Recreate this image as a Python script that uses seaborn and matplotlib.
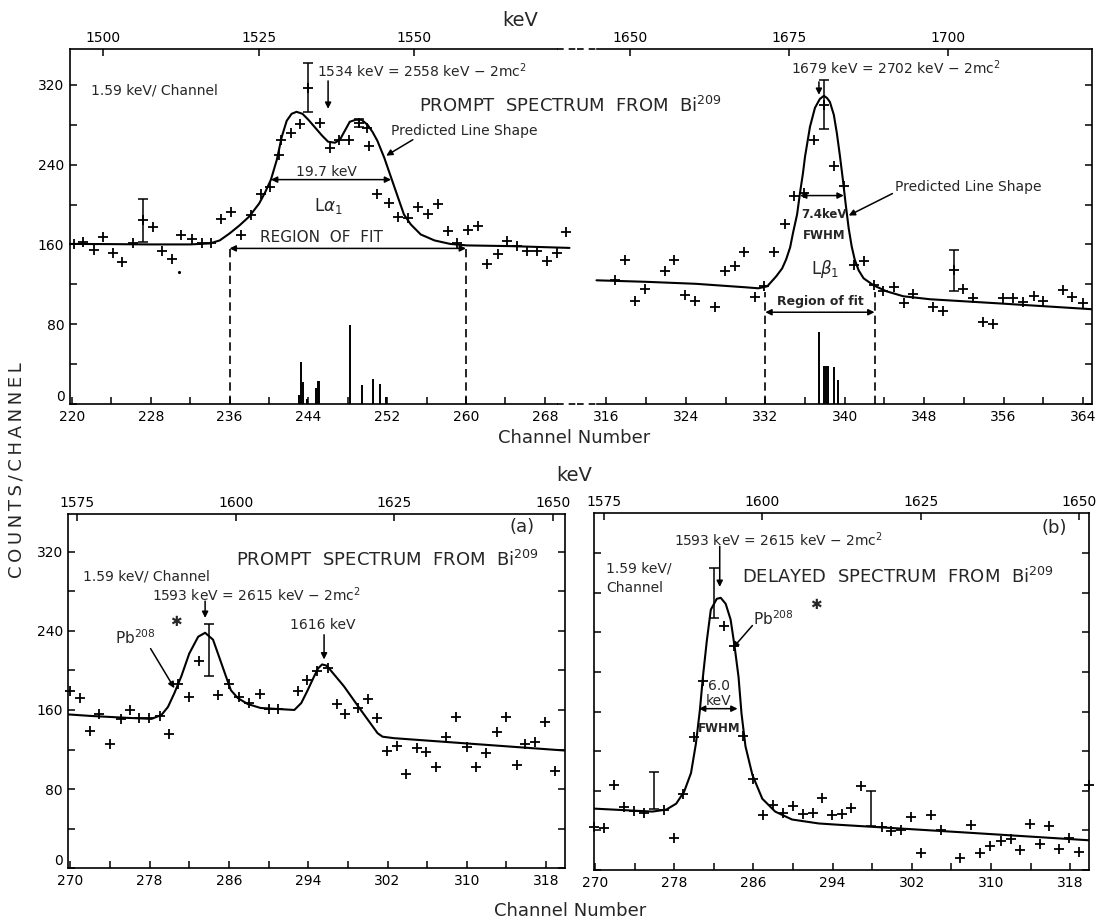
import matplotlib
matplotlib.use("Agg")
import matplotlib.pyplot as plt
import numpy as np
import pandas as pd
import seaborn as sns

sns.set_theme(style="ticks")
plt.rcParams['font.family'] = ['DejaVu Sans']
plt.rcParams['mathtext.fontset'] = 'dejavusans'
plt.rcParams['axes.linewidth'] = 1.2

# ======================= DATA =======================
# --- top panel, left part: L-alpha1 region (prompt spectrum from Bi209) ---
la_ch = [220.2, 221.1, 222.2, 223.2, 224.2, 225.1, 226.2, 227.2, 228.2, 229.1, 230.2,
         231.1, 232.2, 233.2, 234.1, 235.1, 236.1, 237.2, 238.2, 239.2, 240.1, 241.0,
         241.2, 242.2, 243.1, 244.0, 245.2, 246.2, 247.1, 248.1, 249.1, 250.0, 250.2,
         251.0, 252.2, 253.1, 254.1, 255.1, 256.1, 257.2, 258.2, 259.1, 260.2, 261.2,
         262.1, 263.2, 264.2, 265.2, 266.2, 267.2, 268.2, 269.2, 270.1]
la_cnt = [160, 162, 154, 167, 151, 142, 161, 184, 177, 153, 145,
          169, 165, 161, 161, 185, 193, 169, 190, 211, 218, 250,
          265, 272, 281, 317, 282, 257, 265, 265, 282, 277, 259,
          211, 202, 188, 186, 198, 191, 201, 173, 161, 174, 178,
          140, 150, 163, 158, 153, 153, 143, 151, 172]
la_err_ch = [227.2, 244.0, 249.1]
la_err_cnt = [184, 317, 282]
la_err = [22, 24.5, 4]
la_dot_ch = [230.9]
la_dot_cnt = [132]
la_fit_ch = [219.8, 224, 228, 232, 234, 235, 236, 237, 238, 239, 239.6, 240.2, 240.8,
             241.3, 241.8, 242.3, 242.8, 243.4, 244.0, 244.7, 245.4, 246.0, 246.7, 247.2,
             247.7, 248.2, 248.8, 249.4, 250.0, 250.5, 251.0, 251.7, 252.4, 253.1, 253.7,
             254.4, 255.4, 256.8, 258.4, 260.1, 264.5, 270.5]
la_fit_cnt = [160.5, 160.3, 160, 160, 161, 164, 171, 179, 188, 201, 212, 225, 245,
              268, 284, 291, 293, 291, 285, 277, 269, 263, 262, 265,
              274, 283, 285, 285, 280, 273, 264, 247, 227, 207, 190,
              180, 170, 164, 160.5, 159, 158.3, 156.5]
la_stick_ch = [243.0, 243.3, 243.5, 243.9, 244.75, 244.95, 245.1, 248.2, 249.4, 250.6, 251.3, 251.9]
la_stick_h = [9, 42, 22, 5, 16, 23, 23, 79, 19, 25, 20, 7]

# --- top panel, right part: L-beta1 region ---
lb_ch = [316.9, 317.9, 318.9, 319.9, 321.9, 322.8, 323.9, 324.9, 326.9, 327.9, 328.9,
         329.9, 331.0, 331.9, 332.9, 334.0, 334.9, 335.9, 336.9, 337.9, 338.9, 339.9,
         340.9, 341.9, 342.9, 343.9, 344.95, 345.95, 346.9, 348.9, 349.9, 351.0, 351.9,
         352.9, 353.9, 354.95, 355.96, 356.9, 358.0, 359.05, 360.0, 362.0, 362.9, 363.95]
lb_cnt = [124, 144, 103, 115, 133, 144, 109, 103, 97, 133, 138,
          152, 107, 118, 152, 180, 209, 212, 265, 300, 239, 219,
          139, 143, 119, 113, 117, 101, 110, 97, 93, 134, 115,
          106, 82, 80, 106, 106, 102, 108, 103, 114, 107, 101]
lb_err_ch = [337.9, 351.0]
lb_err_cnt = [300, 134]
lb_err = [24.5, 20.5]
lb_fit_ch = [315.0, 320, 325, 330, 331.3, 332.2, 333.1, 333.7, 334.1, 334.5, 334.8, 335.2,
             335.5, 335.8, 336.0, 336.5, 337.0, 337.5, 337.9, 338.2, 338.5, 338.9, 339.2,
             339.5, 339.8, 340.1, 340.4, 340.7, 341.0, 341.4, 341.9, 342.9, 344.2, 345.9,
             348.6, 355.3, 364.9]
lb_fit_cnt = [124, 122.5, 120.5, 117, 116, 118, 128, 136, 145, 157, 172, 190,
              212, 232, 248, 278, 297, 306, 309, 307, 303, 290, 272,
              250, 226, 200, 176, 158, 145, 134, 126, 119, 113, 108,
              105, 101, 95]
lb_stick_ch = [337.4, 337.95, 338.1, 338.3, 338.9, 339.3]
lb_stick_h = [72, 38, 38, 38, 37, 24]

# --- bottom left (a): prompt spectrum, 1593 keV region ---
a_ch = [270.0, 270.96, 272.0, 272.9, 274.0, 275.1, 276.0, 276.9, 277.9, 279.0, 280.0,
        280.9, 282.0, 283.0, 284.9, 286.0, 287.0, 288.0, 289.1, 290.0, 291.0, 293.0,
        293.9, 294.9, 295.95, 296.9, 297.7, 299.0, 300.0, 300.9, 301.9, 303.0, 303.9,
        305.0, 305.9, 306.9, 307.9, 308.9, 310.0, 310.9, 311.9, 313.0, 314.0, 315.1,
        315.9, 316.9, 317.9, 318.9]
a_cnt = [179, 172, 139, 156, 126, 151, 160, 152, 152, 154, 136,
         186, 173, 209, 175, 186, 173, 167, 176, 161, 161, 179,
         190, 199, 202, 166, 156, 162, 171, 152, 119, 124, 95,
         122, 118, 102, 133, 153, 123, 102, 117, 138, 153, 104,
         126, 128, 148, 98]
a_err_ch = [284.0]
a_err_cnt = [220.5]
a_err = [26.5]
a_fit_ch = [269.8, 272, 275.8, 278.2, 279.2, 279.85, 280.5, 281.2, 282.0, 282.9, 283.6,
            284.4, 285.0, 285.7, 286.2, 286.9, 287.9, 289.2, 290.9, 292.6, 293.3, 293.9,
            294.6, 295.0, 295.4, 295.8, 296.1, 297.6, 299.3, 301.0, 301.5, 302.65, 319.9]
a_fit_cnt = [155.5, 154, 152, 151, 155, 163, 177, 194, 217, 234, 238,
             231, 214, 194, 180, 172, 166, 162, 161, 160, 167, 179,
             194, 202, 206, 205, 202, 184, 160, 136.5, 133, 131.5, 119]

# --- bottom right (b): delayed spectrum ---
b_ch = [269.9, 270.95, 271.96, 272.96, 273.97, 275.0, 277.0, 278.0, 278.9, 280.0, 280.9,
        283.0, 284.0, 284.95, 285.95, 286.96, 287.97, 289.0, 290.0, 291.0, 292.0, 292.9,
        293.95, 294.96, 295.9, 296.9, 299.0, 299.9, 300.9, 301.9, 302.9, 303.95, 304.9,
        306.9, 307.95, 308.9, 309.9, 311.0, 312.0, 312.9, 313.9, 314.9, 315.9, 316.9,
        317.9, 318.9, 319.9]
b_cnt = [43, 42, 86, 64, 60, 58, 61, 32, 77, 134, 191,
         247, 226, 135, 92, 56, 66, 58, 65, 57, 58, 73,
         56, 57, 63, 85, 43, 39, 40, 54, 17, 56, 40,
         12, 45, 17, 24, 29, 31, 20, 46, 26, 44, 21,
         32, 18, 86]
b_err_ch = [276.0, 282.0, 297.9]
b_err_cnt = [80.5, 280, 62]
b_err = [18.5, 25, 18]
b_fit_ch = [269.9, 275.8, 277.2, 278.2, 279.0, 279.7, 280.2, 280.6, 280.9, 281.3, 281.7,
            282.3, 282.7, 283.2, 283.7, 284.1, 284.5, 284.8, 285.2, 285.9, 286.9, 288.2,
            289.9, 292.6, 294.1, 307.2, 319.9]
b_fit_cnt = [62, 59, 61, 67, 79, 98, 128, 162, 195, 232, 263,
             274, 275, 269, 253, 226, 195, 158, 125, 96, 72, 59,
             51, 47, 46, 38, 30]

y_major = [0, 80, 160, 240, 320]
y_minor = [40, 120, 200, 280]

# ======================= FIGURE =======================
fig = plt.figure(figsize=(11, 9.21), dpi=100)
axL = fig.add_axes([0.0636, 0.5614, 0.5245 - 0.0636, 0.9468 - 0.5614])
axR = fig.add_axes([0.5245, 0.5614, 0.9927 - 0.5245, 0.9468 - 0.5614])
axA = fig.add_axes([0.0621, 0.0572, 0.5136 - 0.0621, 0.4419 - 0.0572])
axB = fig.add_axes([0.5400, 0.0554, 0.9900 - 0.5400, 0.4433 - 0.0554])

for ax in (axL, axR, axA, axB):
    ax.patch.set_alpha(0)


def draw_points(ax, ch, cnt):
    df = pd.DataFrame({"ch": ch, "cnt": cnt})
    sns.scatterplot(data=df, x="ch", y="cnt", marker="+", s=48, color="black",
                    linewidth=1.3, ax=ax, clip_on=False, zorder=4, legend=False)


def draw_fit(ax, ch, cnt):
    df = pd.DataFrame({"ch": ch, "cnt": cnt})
    sns.lineplot(data=df, x="ch", y="cnt", sort=False, estimator=None, color="black",
                 linewidth=1.5, ax=ax, legend=False, zorder=3)


def draw_err(ax, ch, cnt, err):
    ax.errorbar(ch, cnt, yerr=err, fmt="none", ecolor="black", elinewidth=1.1,
                capsize=3.5, capthick=1.1, zorder=4)


def arrow(ax, x0, y0, x1, y1, style="-|>"):
    ax.annotate("", xy=(x1, y1), xytext=(x0, y0),
                arrowprops=dict(arrowstyle=style, color="black", lw=1.1,
                                mutation_scale=9, shrinkA=0, shrinkB=0),
                annotation_clip=False)


def style_axis(ax, left_on, right_on, labelleft):
    ax.set_yticks(y_major)
    ax.set_yticks(y_minor, minor=True)
    ax.tick_params(axis="both", which="both", direction="in", length=5, width=1.1,
                   labelsize=10, colors="black", top=False, bottom=True,
                   left=left_on, right=right_on, labelleft=labelleft, pad=4)
    ax.set_xlabel("")
    ax.set_ylabel("")
    for s in ax.spines.values():
        s.set_color("black")
        s.set_linewidth(1.2)
    if labelleft:
        # lift the "0" label so that it does not run into the first channel label
        ax.yaxis.get_major_ticks()[0].label1.set_verticalalignment("bottom")


def sec_axis(ax, k0, c0, slope, ticks):
    sec = ax.secondary_xaxis("top", functions=(lambda c: k0 + slope * (np.asarray(c) - c0),
                                               lambda k: c0 + (np.asarray(k) - k0) / slope))
    sec.set_xticks(ticks)
    sec.tick_params(direction="in", length=5, width=1.1, labelsize=10, pad=3, colors="black")
    for s in sec.spines.values():
        s.set_visible(False)
    return sec


# ---------- top left ----------
axL.vlines(la_stick_ch, 0, la_stick_h, color="black", lw=1.4)
draw_fit(axL, la_fit_ch, la_fit_cnt)
draw_points(axL, la_ch, la_cnt)
axL.plot(la_dot_ch, la_dot_cnt, ".", color="black", ms=2.5)
draw_err(axL, la_err_ch, la_err_cnt, la_err)
axL.set_xlim(219.8, 271.26)
axL.set_ylim(0, 356)
axL.set_xticks(range(220, 272, 8))
axL.set_xticks(range(224, 272, 8), minor=True)
style_axis(axL, True, False, True)
axL.spines["right"].set_visible(False)
axL.spines["top"].set_bounds(219.8, 269.2)
axL.spines["bottom"].set_bounds(219.8, 269.2)
sec_axis(axL, 1500, 223.2, 1.587, [1500, 1525, 1550])
tL = axL.get_xaxis_transform()
for yy in (0, 1):
    axL.plot([269.2, 271.26], [yy, yy], transform=tL, color="black", lw=1.2,
             ls=(0, (4, 3)), clip_on=False)

axL.text(221.9, 314, "1.59 keV/ Channel", fontsize=10, ha="left", va="center")
axL.text(244.9, 334, "1534 keV = 2558 keV $-$ 2mc$^2$", fontsize=10, ha="left", va="center")
arrow(axL, 246.0, 324, 246.0, 296)
axL.text(255.2, 299, "PROMPT  SPECTRUM  FROM  Bi$^{209}$", fontsize=13, ha="left",
         va="center", zorder=6)
axL.text(252.4, 274, "Predicted Line Shape", fontsize=10, ha="left", va="center")
arrow(axL, 254.6, 265, 251.9, 249)
axL.text(245.8, 233, "19.7 keV", fontsize=10, ha="center", va="center")
arrow(axL, 240.2, 225, 252.4, 225, "<|-|>")
axL.text(246.0, 199, r"L$\alpha_1$", fontsize=12, ha="center", va="center")
axL.text(245.3, 167, "REGION  OF  FIT", fontsize=11, ha="center", va="center")
arrow(axL, 236, 156, 260, 156, "<|-|>")
axL.vlines([236, 260], 0, 156, color="black", lw=1.2, linestyles=(0, (5, 3)))

# ---------- top right ----------
axR.vlines(lb_stick_ch, 0, lb_stick_h, color="black", lw=1.4)
draw_fit(axR, lb_fit_ch, lb_fit_cnt)
draw_points(axR, lb_ch, lb_cnt)
draw_err(axR, lb_err_ch, lb_err_cnt, lb_err)
axR.set_xlim(313.03, 364.9)
axR.set_ylim(0, 356)
axR.set_xticks(range(316, 366, 8))
axR.set_xticks(range(320, 366, 8), minor=True)
style_axis(axR, False, True, False)
axR.spines["left"].set_visible(False)
axR.spines["top"].set_bounds(315.0, 364.9)
axR.spines["bottom"].set_bounds(315.0, 364.9)
sec_axis(axR, 1650, 318.4, 1.5625, [1650, 1675, 1700])
tR = axR.get_xaxis_transform()
for yy in (0, 1):
    axR.plot([313.03, 315.0], [yy, yy], transform=tR, color="black", lw=1.2,
             ls=(0, (4, 3)), clip_on=False)

axR.text(334.6, 337, "1679 keV = 2702 keV $-$ 2mc$^2$", fontsize=10, ha="left", va="center")
arrow(axR, 337.4, 323, 337.4, 310)
axR.text(345.1, 218, "Predicted Line Shape", fontsize=10, ha="left", va="center")
arrow(axR, 344.8, 211, 340.4, 189)
axR.text(337.9, 190, "7.4keV", fontsize=8.5, fontweight="bold", ha="center", va="center")
axR.text(337.9, 169, "FWHM", fontsize=8.5, fontweight="bold", ha="center", va="center")
arrow(axR, 335.5, 209, 339.9, 209, "<|-|>")
axR.text(338.0, 135, r"L$\beta_1$", fontsize=12, ha="center", va="center")
axR.text(337.5, 103, "Region of fit", fontsize=9, fontweight="bold", ha="center", va="center")
arrow(axR, 332, 92, 343, 92, "<|-|>")
axR.vlines([332, 343], 0, 112, color="black", lw=1.2, linestyles=(0, (5, 3)))

# ---------- bottom (a) ----------
draw_fit(axA, a_fit_ch, a_fit_cnt)
draw_points(axA, a_ch, a_cnt)
draw_err(axA, a_err_ch, a_err_cnt, a_err)
axA.set_xlim(269.8, 319.9)
axA.set_ylim(0, 358)
axA.set_xticks(range(270, 320, 8))
axA.set_xticks(range(274, 320, 8), minor=True)
style_axis(axA, True, True, True)
sec_axis(axA, 1600, 286.7, 1.5625, [1575, 1600, 1625, 1650])

axA.text(315.6, 345, "(a)", fontsize=13, ha="center", va="center")
axA.text(286.7, 312, "PROMPT  SPECTRUM  FROM  Bi$^{209}$", fontsize=13, ha="left", va="center")
axA.text(271.3, 295, "1.59 keV/ Channel", fontsize=10, ha="left", va="center")
axA.text(278.2, 276, "1593 keV = 2615 keV $-$ 2mc$^2$", fontsize=10, ha="left", va="center")
arrow(axA, 283.6, 270, 283.6, 253)
axA.text(274.5, 233, "Pb$^{208}$", fontsize=11, ha="left", va="center")
axA.text(280.7, 249, "\u2731", fontsize=10, ha="center", va="center")
arrow(axA, 278.1, 222, 280.5, 182)
axA.text(295.5, 246, "1616 keV", fontsize=10, ha="center", va="center")
arrow(axA, 295.6, 236, 295.6, 211)

# ---------- bottom (b) ----------
draw_fit(axB, b_fit_ch, b_fit_cnt)
draw_points(axB, b_ch, b_cnt)
draw_err(axB, b_err_ch, b_err_cnt, b_err)
axB.set_xlim(269.9, 319.9)
axB.set_ylim(0, 361)
axB.set_xticks(range(270, 320, 8))
axB.set_xticks(range(274, 320, 8), minor=True)
style_axis(axB, True, True, False)
sec_axis(axB, 1600, 286.9, 1.5625, [1575, 1600, 1625, 1650])

axB.text(316.4, 346, "(b)", fontsize=13, ha="center", va="center")
axB.text(278.0, 334, "1593 keV = 2615 keV $-$ 2mc$^2$", fontsize=10, ha="left", va="center")
arrow(axB, 282.6, 327, 282.6, 286)
axB.text(271.1, 305, "1.59 keV/", fontsize=10, ha="left", va="center")
axB.text(271.1, 285, "Channel", fontsize=10, ha="left", va="center")
axB.text(284.9, 296, "DELAYED  SPECTRUM  FROM  Bi$^{209}$", fontsize=13, ha="left", va="center")
axB.text(286.0, 254, "Pb$^{208}$", fontsize=11, ha="left", va="center")
axB.text(292.3, 268, "\u2731", fontsize=10, ha="center", va="center")
arrow(axB, 285.9, 247, 283.9, 224)
axB.text(282.5, 186, "6.0", fontsize=10, ha="center", va="center")
axB.text(282.5, 171, "keV", fontsize=10, ha="center", va="center")
arrow(axB, 280.5, 163, 284.4, 163, "<|-|>")
axB.text(282.5, 143, "FWHM", fontsize=8.5, fontweight="bold", ha="center", va="center")

# ---------- figure-level labels ----------
fig.text(520 / 1100, 1 - 20 / 921, "keV", fontsize=14, ha="center", va="center")
fig.text(574 / 1100, 1 - 438 / 921, "Channel Number", fontsize=13, ha="center", va="center")
fig.text(574 / 1100, 1 - 475 / 921, "keV", fontsize=14, ha="center", va="center")
fig.text(570 / 1100, 1 - 911 / 921, "Channel Number", fontsize=13, ha="center", va="center")
fig.text(17 / 1100, 1 - 470 / 921, "C\u2009O\u2009U\u2009N\u2009T\u2009S\u2009/\u2009C\u2009H\u2009A\u2009N\u2009N\u2009E\u2009L",
         fontsize=13, rotation=90, ha="center", va="center")

fig.savefig("out.png", dpi=100)
